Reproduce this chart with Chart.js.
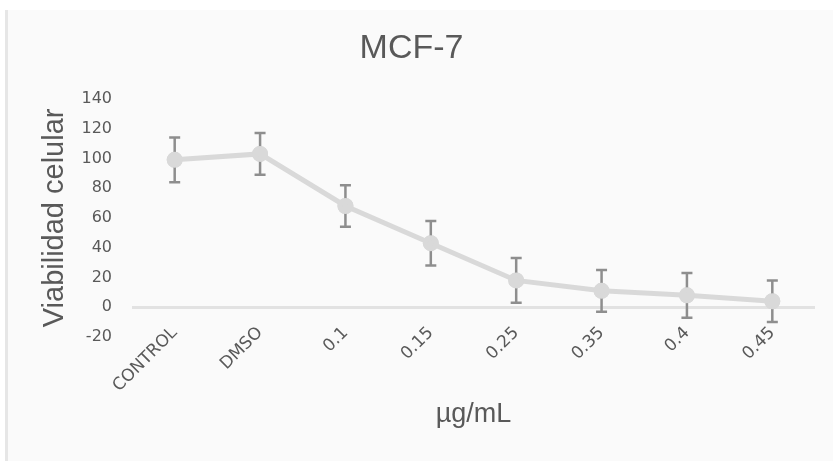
<!DOCTYPE html>
<html>
<head>
<meta charset="utf-8">
<script src="https://cdn.jsdelivr.net/npm/chart.js@4"></script>
<style>
  html, body { margin: 0; padding: 0; background: #ffffff; }
  #panel {
    position: absolute; left: 5px; top: 10px;
    width: 825px; height: 451px;
    border-left: 3px solid #e6e6e6;
    background: #fafafa;
  }
</style>
</head>
<body>
<div id="panel"><canvas id="chart" width="825" height="448"></canvas></div>
<script>
// datos
const categorias = ['CONTROL', 'DMSO', '0.1', '0.15', '0.25', '0.35', '0.4', '0.45'];
const viabilidad = [99, 103, 68, 43, 18, 11, 8, 4];
const errores = [15, 14, 14, 15, 15, 14, 15, 14];
const ticksY = [-20, 0, 20, 40, 60, 80, 100, 120, 140];

const textColor = '#595959';
const fuenteTitulo = 'Liberation Sans, Arial, sans-serif';

// barras de error dibujadas con las escalas del grafico
const errorBars = {
  id: 'errorBars',
  afterDatasetsDraw(chart) {
    const ctx = chart.ctx;
    const x = chart.scales.x, y = chart.scales.y;
    ctx.save();
    ctx.strokeStyle = '#8e8e8e';
    ctx.lineWidth = 2.5;
    viabilidad.forEach((v, i) => {
      const px = x.getPixelForValue(i);
      const top = y.getPixelForValue(v + errores[i]);
      const bot = y.getPixelForValue(v - errores[i]);
      ctx.beginPath();
      ctx.moveTo(px, top); ctx.lineTo(px, bot);
      ctx.moveTo(px - 5.5, top); ctx.lineTo(px + 5.5, top);
      ctx.moveTo(px - 5.5, bot); ctx.lineTo(px + 5.5, bot);
      ctx.stroke();
    });
    ctx.restore();
    // los puntos van encima de las barras
    chart.getDatasetMeta(0).data.forEach(p => p.draw(ctx));
  }
};

new Chart(document.getElementById('chart'), {
  type: 'line',
  data: {
    labels: categorias,
    datasets: [{
      data: viabilidad,
      borderColor: '#d9d9d9',
      backgroundColor: '#d9d9d9',
      borderWidth: 5,
      pointRadius: 5.5,
      pointHoverRadius: 5.5,
      tension: 0
    }]
  },
  options: {
    responsive: false,
    animation: false,
    layout: { padding: { left: 0, right: 18, top: 0, bottom: 0 } },
    plugins: {
      legend: { display: false },
      tooltip: { enabled: false },
      title: {
        display: true,
        text: 'MCF-7',
        color: textColor,
        font: { family: fuenteTitulo, size: 34, weight: 'normal' },
        padding: { top: 18, bottom: 30 }
      }
    },
    scales: {
      x: {
        offset: true,
        afterFit(axis) { axis.height = 121; },
        // las etiquetas suben un poco sobre el borde del eje, sin recorte
        afterUpdate(axis) { axis._computeLabelArea = () => undefined; },
        grid: { display: false },
        border: { display: false },
        ticks: {
          color: textColor,
          padding: -22,
          minRotation: 45, maxRotation: 45,
          font: { family: 'DejaVu Sans, sans-serif', size: 17 }
        },
        title: {
          display: true,
          text: 'µg/mL',
          color: textColor,
          font: { family: fuenteTitulo, size: 27 },
          padding: { top: 0, bottom: 27 }
        }
      },
      y: {
        min: -20, max: 140,
        afterBuildTicks(axis) { axis.ticks = ticksY.map(v => ({ value: v })); },
        afterFit(axis) { axis.width = 124; },
        border: { display: false },
        grid: {
          drawTicks: false,
          lineWidth: 3,
          color: ctx => ctx.tick && ctx.tick.value === 0 ? '#e2e2e2' : 'transparent'
        },
        ticks: {
          color: textColor,
          padding: 20,
          font: { family: 'DejaVu Sans, sans-serif', size: 16 }
        },
        title: {
          display: true,
          text: 'Viabilidad celular',
          color: textColor,
          font: { family: fuenteTitulo, size: 29 },
          padding: { top: 30, bottom: 0 }
        }
      }
    }
  },
  plugins: [errorBars]
});
</script>
</body>
</html>
